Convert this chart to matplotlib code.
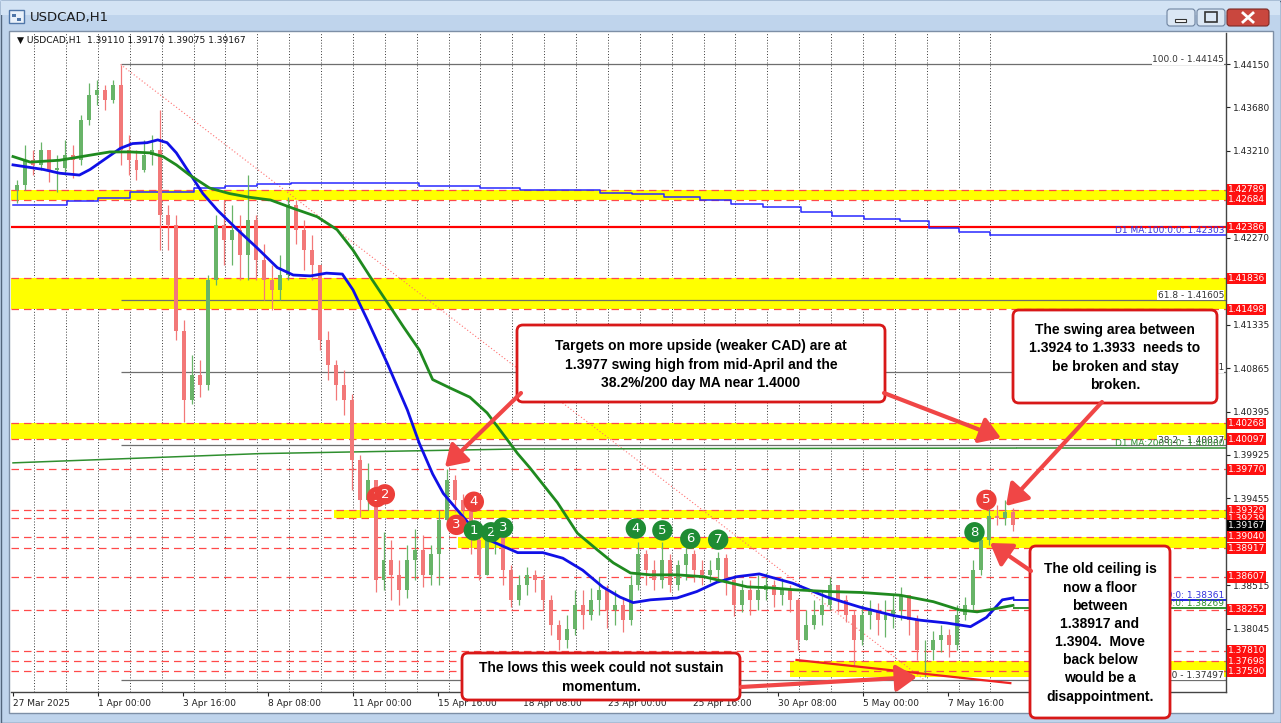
import numpy as np
import matplotlib
matplotlib.use("Agg")
import matplotlib.pyplot as plt
from matplotlib import transforms
from matplotlib.patches import Rectangle, FancyBboxPatch, FancyArrowPatch

# =========================================================
# DATA
# hour 0 = 27 Mar 08:00, candles grouped into 6-hour bars
# =========================================================
first_open = 1.4279
closes = [1.4284, 1.4311, 1.4306, 1.4322, 1.4301, 1.4303, 1.4317, 1.4311, 1.4354, 1.4382,
          1.4387, 1.4376, 1.4392, 1.4322, 1.4311, 1.4301, 1.4317, 1.4322, 1.4252, 1.4241,
          1.4127, 1.4052, 1.4079, 1.4068, 1.4182, 1.4241, 1.4225, 1.4236, 1.4209, 1.4246,
          1.4203, 1.4182, 1.4171, 1.4187, 1.4263, 1.4236, 1.4214, 1.4198, 1.4117, 1.4090,
          1.4068, 1.4052, 1.3987, 1.3944, 1.3966, 1.3857, 1.3879, 1.3863, 1.3847, 1.3879,
          1.3890, 1.3863, 1.3885, 1.3922, 1.3966, 1.3944, 1.3933, 1.3901, 1.3863, 1.3901,
          1.3906, 1.3868, 1.3836, 1.3852, 1.3863, 1.3857, 1.3836, 1.3809, 1.3793, 1.3804,
          1.3830, 1.3820, 1.3836, 1.3847, 1.3825, 1.3830, 1.3814, 1.3852, 1.3885, 1.3868,
          1.3857, 1.3879, 1.3852, 1.3874, 1.3885, 1.3868, 1.3863, 1.3868, 1.3881, 1.3857,
          1.3830, 1.3847, 1.3836, 1.3847, 1.3852, 1.3841, 1.3847, 1.3836, 1.3793, 1.3809,
          1.3820, 1.3830, 1.3852, 1.3836, 1.3820, 1.3793, 1.3820, 1.3825, 1.3814, 1.3820,
          1.3825, 1.3841, 1.3814, 1.3782, 1.3782, 1.3793, 1.3798, 1.3787, 1.3820, 1.3830,
          1.3868, 1.3901, 1.3927, 1.3924, 1.3931, 1.3917]
highs = [1.4290, 1.4327, 1.4322, 1.4331, 1.4322, 1.4317, 1.4333, 1.4327, 1.4360, 1.4394,
         1.4398, 1.4392, 1.4398, 1.4414, 1.4338, 1.4322, 1.4333, 1.4338, 1.4365, 1.4263,
         1.4252, 1.4138, 1.4101, 1.4095, 1.4187, 1.4252, 1.4268, 1.4263, 1.4252, 1.4295,
         1.4252, 1.4220, 1.4198, 1.4209, 1.4271, 1.4268, 1.4246, 1.4230, 1.4198, 1.4127,
         1.4095, 1.4084, 1.4058, 1.3993, 1.3984, 1.3966, 1.3909, 1.3901, 1.3879, 1.3895,
         1.3912, 1.3906, 1.3895, 1.3933, 1.3977, 1.3971, 1.3950, 1.3939, 1.3912, 1.3915,
         1.3915, 1.3912, 1.3874, 1.3863, 1.3871, 1.3868, 1.3863, 1.3841, 1.3814, 1.3820,
         1.3847, 1.3847, 1.3849, 1.3861, 1.3852, 1.3847, 1.3838, 1.3863, 1.3899, 1.3890,
         1.3879, 1.3899, 1.3885, 1.3879, 1.3893, 1.3890, 1.3879, 1.3879, 1.3888, 1.3885,
         1.3863, 1.3857, 1.3857, 1.3863, 1.3865, 1.3857, 1.3860, 1.3852, 1.3838, 1.3825,
         1.3836, 1.3847, 1.3861, 1.3852, 1.3841, 1.3825, 1.3830, 1.3836, 1.3833, 1.3836,
         1.3841, 1.3850, 1.3841, 1.3820, 1.3793, 1.3802, 1.3809, 1.3804, 1.3830, 1.3839,
         1.3879, 1.3906, 1.3935, 1.3939, 1.3944, 1.3935]
lows = [1.4265, 1.4279, 1.4295, 1.4301, 1.4288, 1.4277, 1.4295, 1.4292, 1.4306, 1.4349,
        1.4371, 1.4365, 1.4373, 1.4306, 1.4295, 1.4290, 1.4298, 1.4306, 1.4214, 1.4214,
        1.4117, 1.4028, 1.4048, 1.4055, 1.4063, 1.4176, 1.4198, 1.4198, 1.4182, 1.4182,
        1.4182, 1.4160, 1.4149, 1.4160, 1.4182, 1.4220, 1.4192, 1.4182, 1.4106, 1.4074,
        1.4052, 1.4036, 1.3955, 1.3925, 1.3933, 1.3844, 1.3847, 1.3836, 1.3830, 1.3838,
        1.3857, 1.3850, 1.3852, 1.3852, 1.3917, 1.3931, 1.3917, 1.3885, 1.3857, 1.3863,
        1.3885, 1.3852, 1.3828, 1.3830, 1.3841, 1.3844, 1.3825, 1.3798, 1.3782, 1.3784,
        1.3798, 1.3804, 1.3814, 1.3820, 1.3806, 1.3809, 1.3801, 1.3809, 1.3847, 1.3852,
        1.3847, 1.3849, 1.3844, 1.3847, 1.3857, 1.3855, 1.3852, 1.3855, 1.3857, 1.3841,
        1.3818, 1.3823, 1.3820, 1.3825, 1.3836, 1.3828, 1.3830, 1.3823, 1.3782, 1.3793,
        1.3804, 1.3809, 1.3825, 1.3823, 1.3812, 1.3764, 1.3787, 1.3804, 1.3798, 1.3796,
        1.3806, 1.3814, 1.3798, 1.3771, 1.3753, 1.3771, 1.3780, 1.3774, 1.3782, 1.3814,
        1.3825, 1.3863, 1.3895, 1.3917, 1.3917, 1.3910]

# hourly moving averages (blue = 100, green = 200)
ma100_hours = [0, 23, 35, 50, 58, 68, 81, 90, 101, 109, 116, 123, 133, 143, 154, 169, 184, 199,
               211, 224, 236, 248, 256, 267, 282, 297, 306, 316, 324, 337, 346, 361, 380, 399,
               414, 429, 444, 457, 467, 480, 500, 515, 530, 545, 562, 587, 613, 638, 663, 683,
               703, 721, 733, 745, 753]
ma100_vals = [1.4306, 1.4301, 1.4297, 1.4295, 1.4301, 1.4311, 1.4324, 1.4329, 1.4330, 1.4333,
              1.4330, 1.4319, 1.4297, 1.4275, 1.4257, 1.4236, 1.4216, 1.4195, 1.4187, 1.4186,
              1.4189, 1.4188, 1.4171, 1.4138, 1.4091, 1.4041, 1.4005, 1.3972, 1.3951, 1.3929,
              1.3914, 1.3899, 1.3887, 1.3887, 1.3881, 1.3868, 1.3850, 1.3839, 1.3833, 1.3836,
              1.3838, 1.3845, 1.3855, 1.3861, 1.3864, 1.3854, 1.3839, 1.3828, 1.3819, 1.3814,
              1.3811, 1.3807, 1.3817, 1.3836, 1.3838]
ma200_hours = [0, 13, 35, 56, 73, 88, 103, 113, 123, 133, 148, 163, 178, 194, 211, 229, 244,
               256, 269, 282, 294, 306, 316, 329, 344, 357, 367, 380, 389, 410, 425, 440, 452,
               465, 480, 500, 520, 538, 553, 570, 587, 613, 638, 668, 693, 713, 726, 738, 753]
ma200_vals = [1.4315, 1.4309, 1.4311, 1.4316, 1.4320, 1.4320, 1.4319, 1.4315, 1.4306, 1.4295,
              1.4281, 1.4275, 1.4271, 1.4268, 1.4259, 1.4250, 1.4236, 1.4214, 1.4185, 1.4157,
              1.4131, 1.4106, 1.4074, 1.4065, 1.4055, 1.4038, 1.4019, 1.3994, 1.3979, 1.3941,
              1.3908, 1.3890, 1.3876, 1.3865, 1.3863, 1.3863, 1.3861, 1.3855, 1.3850, 1.3849,
              1.3847, 1.3845, 1.3844, 1.3841, 1.3834, 1.3825, 1.3823, 1.3826, 1.3830]
ma100_last = 1.38361
ma200_last = 1.38269

# daily moving averages
d1_100_hours = [0, 41, 64, 88, 136, 160, 184, 209, 306, 352, 382, 442, 466, 490, 517, 541,
                565, 593, 617, 641, 668, 690, 712, 736]
d1_100_vals = [1.4263, 1.4267, 1.4270, 1.4277, 1.4281, 1.4283, 1.4285, 1.4286, 1.4283, 1.4281,
               1.4279, 1.4276, 1.4274, 1.4271, 1.4268, 1.4264, 1.4260, 1.4255, 1.4251, 1.4248,
               1.4245, 1.4238, 1.4234, 1.42303]
d1_200_hours = [0, 186, 380, 755]
d1_200_vals = [1.3984, 1.3994, 1.3999, 1.40000]

# levels
red_dashed = [1.42789, 1.42684, 1.41836, 1.41498, 1.40268, 1.40097, 1.39770, 1.39329,
              1.39239, 1.39040, 1.38917, 1.38607, 1.38252, 1.37810, 1.37698, 1.37590]
red_solid = 1.42386
band_lo = [1.42684, 1.41498, 1.40097, 1.39239, 1.38917, 1.37530]
band_hi = [1.42789, 1.41836, 1.40268, 1.39329, 1.39040, 1.37698]
band_start = [-2, -2, -2, 242, 335, 585]
fib_levels = [1.44145, 1.41605, 1.40821, 1.40037, 1.37497]
fib_names = ['100.0', '61.8', '50.0', '38.2', '0.0']
fib_start = 81
fib_end = 686
trend_hours = [590, 751]
trend_vals = [1.3771, 1.3746]
current_price = 1.39167

ytick_vals = [1.44150, 1.43680, 1.43210, 1.42270, 1.41335, 1.40865, 1.40395,
              1.39925, 1.39455, 1.38515, 1.38045]
xtick_hours = [0, 64, 128, 192, 256, 320, 384, 448, 512, 576, 640, 704]
xtick_labels = ['27 Mar 2025', '1 Apr 00:00', '3 Apr 16:00', '8 Apr 08:00', '11 Apr 00:00',
                '15 Apr 16:00', '18 Apr 08:00', '23 Apr 00:00', '25 Apr 16:00',
                '30 Apr 08:00', '5 May 00:00', '7 May 16:00']

# numbered swing markers
marker_hours = [274, 280, 334, 347, 347, 360, 369, 469, 489, 510, 531, 724, 733]
marker_vals = [1.3947, 1.3950, 1.3917, 1.3942, 1.3911, 1.3909, 1.3914, 1.3913, 1.3911,
               1.3902, 1.3901, 1.3909, 1.3944]
marker_text = ['1', '2', '3', '4', '1', '2', '3', '4', '5', '6', '7', '8', '5']
marker_red = [True, True, True, True, False, False, False, False, False, False, False,
              False, True]

# =========================================================
# FIGURE / WINDOW FRAME
# =========================================================
W, H = 1281, 723
fig = plt.figure(figsize=(W / 100, H / 100), dpi=100)
fig.patch.set_facecolor('#bfd4ec')


def px_rect(x0, y0, x1, y1):
    return [x0 / W, 1 - y1 / H, (x1 - x0) / W, (y1 - y0) / H]


bg = fig.add_axes([0, 0, 1, 1], zorder=0)
bg.set_xlim(0, W)
bg.set_ylim(H, 0)
bg.axis('off')
bg.add_patch(Rectangle((0.5, 0.5), W - 1, H - 1, fc='#bfd4ec', ec='#52657c', lw=1))
bg.add_patch(Rectangle((1, 1), W - 2, 14, fc='#d3e3f4', ec='none'))
bg.add_patch(Rectangle((9, 31), 1264, 682, fc='white', ec='#7d8fa6', lw=1))
# title icon + text
bg.add_patch(Rectangle((9, 10), 15, 13, fc='#e9f1fa', ec='#4f76a8', lw=1))
bg.add_patch(Rectangle((12, 14), 4, 3, fc='#4f76a8', ec='none'))
bg.add_patch(Rectangle((17, 18), 4, 3, fc='#4f76a8', ec='none'))
bg.text(30, 17, 'USDCAD,H1', fontsize=9.5, va='center', ha='left', color='#1b1b1b',
        family='DejaVu Sans')
# window buttons
for bx, bw in [(1167, 28), (1197, 28)]:
    bg.add_patch(FancyBboxPatch((bx, 9), bw, 17, boxstyle='round,pad=0,rounding_size=3',
                                fc='#dbe7f4', ec='#6f84a0', lw=0.8))
bg.add_patch(Rectangle((1175, 19), 11, 3, fc='white', ec='#333333', lw=0.8))
bg.add_patch(Rectangle((1205, 12), 12, 10, fc='none', ec='#333333', lw=1.2))
bg.add_patch(FancyBboxPatch((1227, 9), 42, 17, boxstyle='round,pad=0,rounding_size=3',
                            fc='#c9473e', ec='#7c2a25', lw=0.8))
bg.plot([1243, 1253], [13, 22], color='white', lw=2)
bg.plot([1243, 1253], [22, 13], color='white', lw=2)

# =========================================================
# PRICE CHART
# =========================================================
ax = fig.add_axes(px_rect(11, 33, 1226, 692), zorder=1)
ax.set_facecolor('white')
xmin, xmax = -1.5, 913.4
ax.set_xlim(xmin, xmax)
ax.set_ylim(1.37364, 1.44485)

# daily grid
for gh in np.arange(16, 760, 24):
    ax.axvline(gh, color='#222222', ls=(0, (1.2, 2.2)), lw=0.6, zorder=0.5)

# yellow zones + levels
for lo, hi, st in zip(band_lo, band_hi, band_start):
    ax.fill_between([st, xmax], lo, hi, color='#ffff00', lw=0, zorder=1)
for lvl in red_dashed:
    ax.axhline(lvl, color='#ff4a4a', ls=(0, (6, 4)), lw=0.9, zorder=1.5)
ax.axhline(red_solid, color='#ff0000', lw=1.6, zorder=1.5)

# fibonacci
ax.hlines(fib_levels, fib_start, xmax, color='#6e6e6e', lw=0.9, zorder=1.6)
ax.plot([fib_start, fib_end], [fib_levels[0], fib_levels[-1]], color='#ff7070',
        ls=(0, (1, 2)), lw=0.8, zorder=1.6)
for name, lvl in zip(fib_names, fib_levels):
    ax.text(xmax - 1.5, lvl, f'{name} - {lvl:.5f}', ha='right', va='bottom', fontsize=6.5,
            color='#333333', zorder=2,
            bbox=dict(boxstyle='square,pad=0.05', fc='white', ec='none'))

# daily MAs
ax.step(d1_100_hours, d1_100_vals, where='post', color='#2828ff', lw=1.1, zorder=2.5)
ax.hlines(d1_100_vals[-1], d1_100_hours[-1], xmax, color='#2828ff', lw=1.1, zorder=2.5)
ax.plot(d1_200_hours, d1_200_vals, color='#2f8f2f', lw=1.1, zorder=2.5)
ax.hlines(d1_200_vals[-1], d1_200_hours[-1], xmax, color='#2f8f2f', lw=1.1, zorder=2.5)
ax.text(xmax - 1.5, d1_100_vals[-1], 'D1 MA:100:0:0: 1.42303', ha='right', va='bottom',
        fontsize=6.5, color='#3333dd', zorder=2.6)
ax.text(xmax - 1.5, d1_200_vals[-1] + 0.00003, 'D1 MA:200:0:0: 1.40000', ha='right',
        va='bottom', fontsize=6.5, color='#2f8f2f', zorder=2.6)

# candles
bar_hours = np.arange(len(closes)) * 6 + 3
c = np.array(closes)
o = np.r_[first_open, c[:-1]]
hi_ = np.maximum(np.array(highs), np.maximum(o, c))
lo_ = np.minimum(np.array(lows), np.minimum(o, c))
cols = np.where(c >= o, '#68b468', '#f27878')
ax.vlines(bar_hours, lo_, hi_, colors=cols, lw=0.9, zorder=3)
ax.bar(bar_hours, np.abs(c - o), bottom=np.minimum(o, c), width=3.0, color=cols,
       lw=0, zorder=3)

# hourly MAs
ax.plot(ma100_hours, ma100_vals, color='#1010e6', lw=2, zorder=4)
ax.hlines(ma100_last, ma100_hours[-1], xmax, color='#1010e6', lw=1.3, zorder=4)
ax.plot(ma200_hours, ma200_vals, color='#1f8a1f', lw=2, zorder=4)
ax.hlines(ma200_last, ma200_hours[-1], xmax, color='#1f8a1f', lw=1.3, zorder=4)
ax.text(xmax - 1.5, ma100_last, 'MA:100:0:0: 1.38361', ha='right', va='bottom',
        fontsize=6.5, color='#3333dd', zorder=4.1)
ax.text(xmax - 1.5, ma200_last, 'MA:200:0:0: 1.38269', ha='right', va='bottom',
        fontsize=6.5, color='#2f8f2f', zorder=4.1)

# trend line through the lows
ax.plot(trend_hours, trend_vals, color='#ee2222', lw=1.6, zorder=4.5)

# numbered markers
for mh, mv, mt, red in zip(marker_hours, marker_vals, marker_text, marker_red):
    ax.text(mh, mv, mt, ha='center', va='center', fontsize=9.5, color='white', zorder=5,
            bbox=dict(boxstyle='circle,pad=0.28', fc='#ec3f3a' if red else '#1f8c34',
                      ec='none'))

# axes styling
for s in ['top', 'left']:
    ax.spines[s].set_visible(False)
for s in ['right', 'bottom']:
    ax.spines[s].set_color('#444444')
    ax.spines[s].set_linewidth(1)
ax.yaxis.tick_right()
ax.set_yticks(ytick_vals, [f'{v:.5f}' for v in ytick_vals])
ax.tick_params(axis='y', length=3, labelsize=6.5, pad=2, colors='#222222')
ax.set_xticks(xtick_hours, xtick_labels)
for t in ax.get_xticklabels():
    t.set_horizontalalignment('left')
ax.tick_params(axis='x', length=3, labelsize=6.5, pad=2, colors='#222222')

# right-axis price tags
trans = transforms.blended_transform_factory(ax.transAxes, ax.transData)
for lvl in red_dashed + [red_solid]:
    ax.text(1.0016, lvl, f'{lvl:.5f}', transform=trans, ha='left', va='center',
            fontsize=6.5, color='white', clip_on=False, zorder=6,
            bbox=dict(boxstyle='square,pad=0.12', fc='#ff1010', ec='none'))
ax.text(1.0016, current_price, f'{current_price:.5f}', transform=trans, ha='left',
        va='center', fontsize=6.5, color='white', clip_on=False, zorder=7,
        bbox=dict(boxstyle='square,pad=0.12', fc='black', ec='none'))

# =========================================================
# OVERLAY: header + comment boxes
# =========================================================
ov = fig.add_axes([0, 0, 1, 1], zorder=3)
ov.set_xlim(0, W)
ov.set_ylim(H, 0)
ov.axis('off')
ov.patch.set_visible(False)
ov.text(17, 40, '\u25BC USDCAD,H1  1.39110 1.39170 1.39075 1.39167', fontsize=6.6,
        va='center', ha='left', color='#111111')

boxes = [
    ((517, 325, 885, 402), 'Targets on more upside (weaker CAD) are at\n'
                           '1.3977 swing high from mid-April and the\n'
                           '38.2%/200 day MA near 1.4000'),
    ((1013, 310, 1217, 403), 'The swing area between\n1.3924 to 1.3933  needs to\n'
                             'be broken and stay\nbroken.'),
    ((1030, 546, 1170, 718), 'The old ceiling is\nnow a floor\nbetween\n1.38917 and\n'
                             '1.3904.  Move\nback below\nwould be a\ndisappointment.'),
    ((462, 653, 740, 700), 'The lows this week could not sustain\nmomentum.'),
]
arrows = [((521, 393), (445, 467)), ((884, 393), (1001, 438)), ((1102, 402), (1006, 506)),
          ((1031, 571), (990, 543)), ((741, 687), (917, 677))]

for (x0, y0, x1, y1), txt in boxes:
    ov.add_patch(FancyBboxPatch((x0, y0), x1 - x0, y1 - y0,
                                boxstyle='round,pad=0,rounding_size=6',
                                fc='white', ec='#d81818', lw=2, zorder=2))
    ov.text((x0 + x1) / 2, (y0 + y1) / 2 + 1, txt, ha='center', va='center',
            fontsize=10, fontweight='bold', family='Liberation Sans', linespacing=1.38,
            color='black', zorder=3)

for (tx, ty), (hx, hy) in arrows:
    ov.add_patch(FancyArrowPatch((tx, ty), (hx, hy), arrowstyle='-|>,head_length=0.7,head_width=0.45',
                                 mutation_scale=18, lw=3, color='#f04646', zorder=4,
                                 shrinkA=0, shrinkB=0))

fig.savefig('out.png', dpi=100, facecolor=fig.get_facecolor())
